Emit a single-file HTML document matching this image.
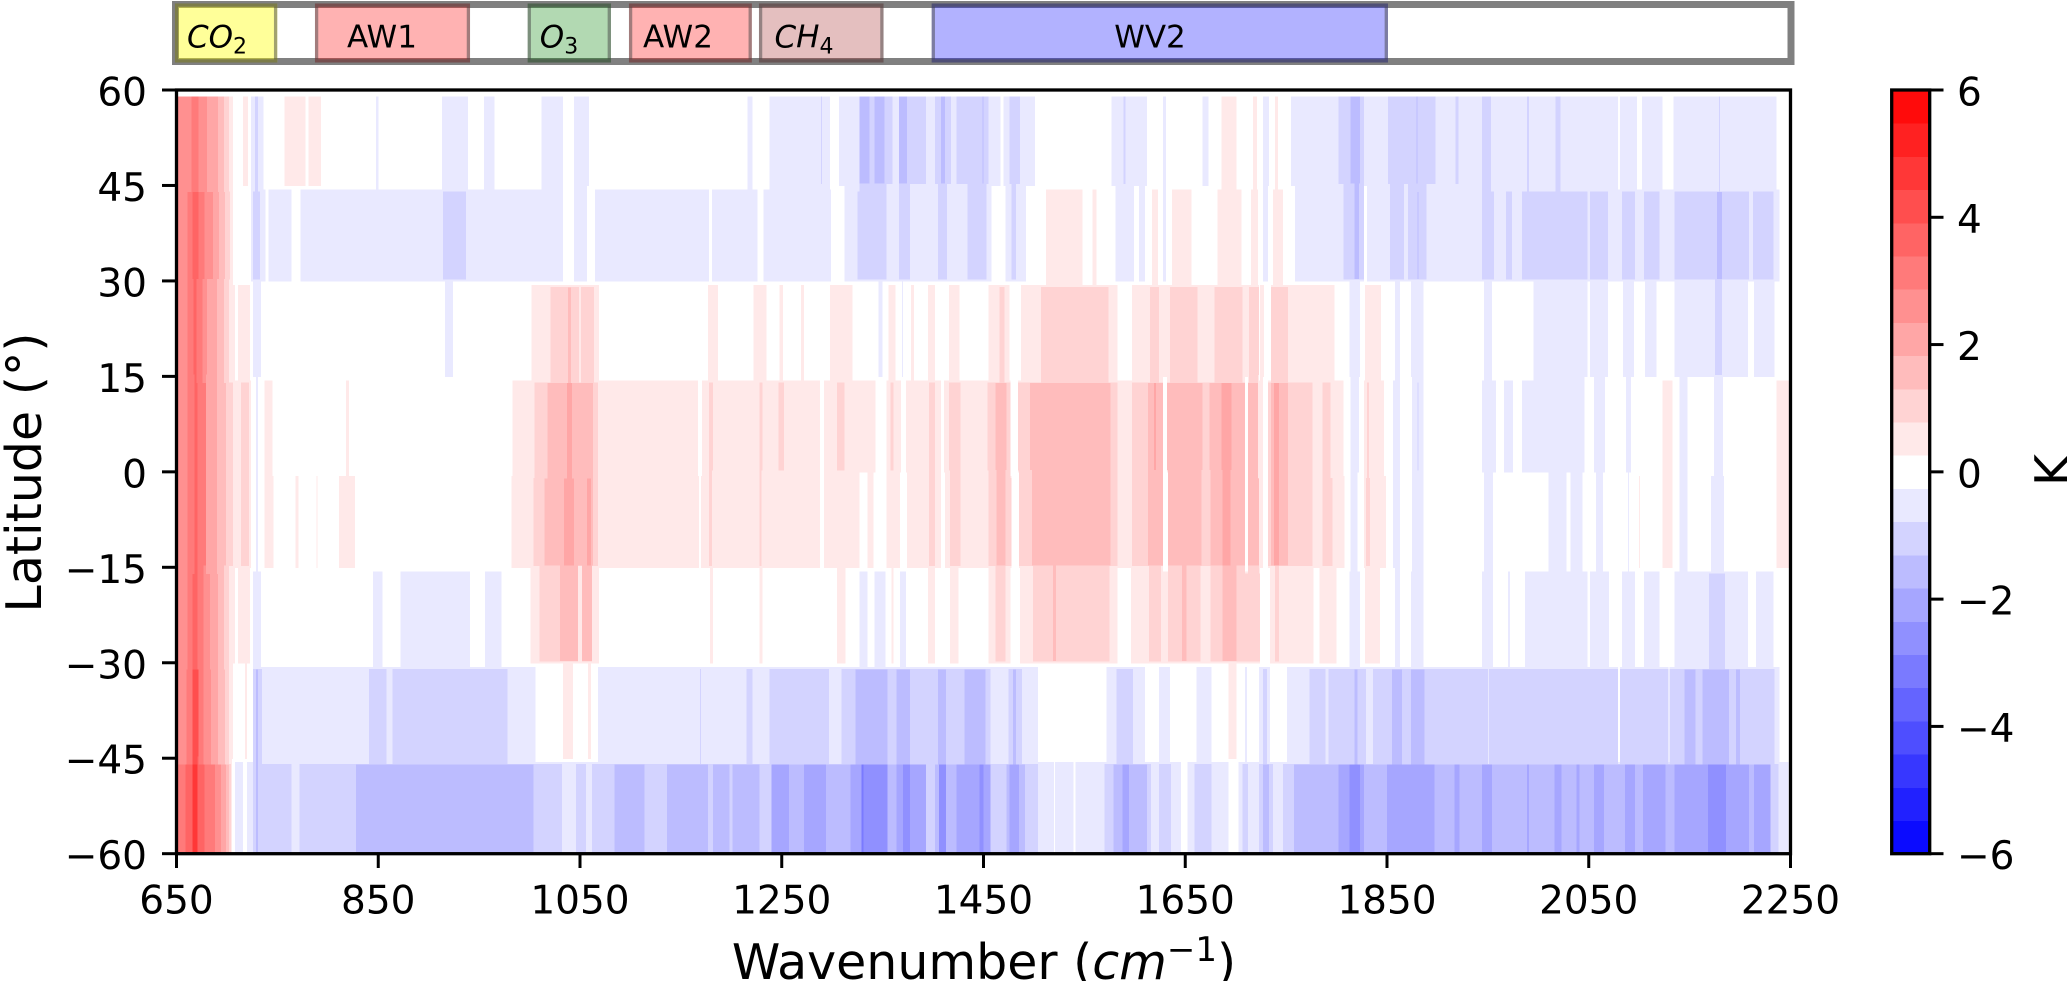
<!DOCTYPE html>
<html lang="en">
<head>
<meta charset="utf-8">
<title>Latitude vs wavenumber temperature difference</title>
<style>
html,body{margin:0;padding:0;background:#fff;overflow:hidden}
svg{display:block}
text{font-family:"DejaVu Sans","Liberation Sans",sans-serif;fill:#000}
</style>
</head>
<body>
<svg id="chart" xmlns="http://www.w3.org/2000/svg" width="2067" height="981" viewBox="0 0 2067 981">
  <rect x="0" y="0" width="2067" height="981" fill="#fff"/>

  <g>
    <rect x="175.5" y="4.5" width="1615.5" height="57" fill="#fff" stroke="#808080" stroke-width="7"/>
    <rect x="175" y="3.5" width="102.3" height="59" fill="rgba(255,255,0,0.4)"/>
    <rect x="315" y="3.5" width="155" height="59" fill="rgba(255,0,0,0.3)"/>
    <rect x="527.7" y="3.5" width="83.3" height="59" fill="rgba(0,128,0,0.3)"/>
    <rect x="629" y="3.5" width="122.8" height="59" fill="rgba(255,0,0,0.3)"/>
    <rect x="759" y="3.5" width="124.5" height="59" fill="rgba(165,42,42,0.3)"/>
    <rect x="931.7" y="3.5" width="456.3" height="59" fill="rgba(0,0,255,0.3)"/>
    <g fill="none" stroke="rgba(70,70,70,0.5)" stroke-width="3.3">
      <rect x="176.6" y="5.1" width="99" height="55.8"/>
      <rect x="316.6" y="5.1" width="151.8" height="55.8"/>
      <rect x="529.3" y="5.1" width="80" height="55.8"/>
      <rect x="630.6" y="5.1" width="119.6" height="55.8"/>
      <rect x="760.6" y="5.1" width="121.3" height="55.8"/>
      <rect x="933.3" y="5.1" width="453" height="55.8"/>
    </g>
    <g font-size="31" text-anchor="middle">
      <text x="217" y="47.5"><tspan font-style="italic">CO</tspan><tspan font-size="22" dy="6">2</tspan></text>
      <text x="382" y="47.5">AW1</text>
      <text x="559" y="47.5"><tspan font-style="italic">O</tspan><tspan font-size="22" dy="6">3</tspan></text>
      <text x="678" y="47.5">AW2</text>
      <text x="804" y="47.5"><tspan font-style="italic">CH</tspan><tspan font-size="22" dy="6">4</tspan></text>
      <text x="1150" y="47.5">WV2</text>
    </g>
  </g>

  <g id="heatmap" shape-rendering="crispEdges"></g>
  <rect x="176.5" y="90" width="1614" height="763.7" fill="none" stroke="#000" stroke-width="3.3"/>
  <g id="xAxis"></g>
  <g id="yAxis"></g>

  <text x="984" y="979" font-size="49" text-anchor="middle">Wavenumber (<tspan font-style="italic">cm</tspan><tspan font-size="34" dy="-18">−1</tspan><tspan dy="18">)</tspan></text>
  <text transform="translate(41,472.5) rotate(-90)" font-size="49" text-anchor="middle">Latitude (°)</text>

  <g id="colorbar"></g>
  <text transform="translate(2070,470) rotate(-90)" font-size="49" text-anchor="middle">K</text>
</svg>

<script>
// Each pair: [wavenumber where the run starts, temperature difference in K]
const lat60to45 = [[651,2.5],[665,3],[672,2.5],[680,2],[691,1.5],[697,1],[702,.5],[706,0],[716,.5],[721,0],[724,-.5],[728,-1],[731,-.5],[736,0],[757,.5],[778,0],[781,.5],[793,0],[848,-.5],[850,0],[913,-.5],[939,0],[955,-.5],[965,0],[1012,-.5],[1033,0],[1044,-.5],[1059,0],[1216,-.5],[1221,0],[1238,-.5],[1289,-1],[1290,-.5],[1298,0],[1307,-.5],[1327,-1.5],[1337,-1],[1342,-1.5],[1352,-1],[1360,-.5],[1366,-1.5],[1374,-1],[1393,-.5],[1402,-1],[1408,-1.5],[1412,-1],[1418,-.5],[1423,-1],[1449,-1.5],[1450,-1],[1455,-.5],[1467,0],[1470,-.5],[1476,-1],[1486,-.5],[1501,0],[1577,-.5],[1589,-1],[1591,-.5],[1612,0],[1628,-.5],[1631,0],[1667,-.5],[1673,0],[1686,.5],[1701,0],[1717,.5],[1721,0],[1727,-.5],[1733,0],[1739,.5],[1742,0],[1755,-.5],[1802,-1],[1814,-1.5],[1823,-1],[1827,-.5],[1851,-1],[1879,-1.5],[1880,-1],[1898,-.5],[1918,-1],[1921,-.5],[1944,-1],[1953,-.5],[1989,-1],[1991,-.5],[2017,-1],[2022,-.5],[2079,0],[2081,-.5],[2098,0],[2103,-.5],[2123,0],[2134,-.5],[2179,-1],[2180,-.5],[2236,0]];
const lat45to30 = [[651,2.5],[661,3],[666,3.5],[672,3],[678,2.5],[686,2],[692,1.5],[698,1],[703,.5],[706,0],[724,-.5],[726,-1],[733,-.5],[738,0],[741,-.5],[764,0],[773,-.5],[914,-1],[937,-.5],[1033,0],[1044,-.5],[1057,0],[1065,-.5],[1178,0],[1181,-.5],[1226,0],[1232,-.5],[1299,0],[1312,-.5],[1325,-1],[1354,-.5],[1366,-1],[1377,-.5],[1405,-1],[1414,-.5],[1434,-1],[1453,-.5],[1458,0],[1472,-.5],[1478,-1],[1482,-.5],[1492,0],[1512,.5],[1548,0],[1558,.5],[1562,0],[1581,-.5],[1599,0],[1604,-.5],[1610,0],[1617,.5],[1623,0],[1628,-.5],[1631,0],[1637,.5],[1656,0],[1682,.5],[1706,0],[1715,.5],[1722,0],[1727,-.5],[1732,0],[1737,.5],[1747,0],[1759,-.5],[1807,-1],[1818,-1.5],[1822,-1],[1827,0],[1830,-.5],[1853,-1],[1867,-.5],[1871,-1],[1880,-1.5],[1881,-1],[1889,-.5],[1944,-1],[1956,-.5],[1968,-1],[1974,-.5],[1984,-1],[2049,-.5],[2051,-1],[2069,-.5],[2083,-1],[2096,-.5],[2105,-1],[2120,-.5],[2135,-1],[2177,-1.5],[2182,-1],[2209,-.5],[2213,-1],[2233,-.5],[2239,0]];
const lat30to15 = [[651,2.5],[661,3],[667,3.5],[670,3],[676,2.5],[680,2],[690,1.5],[697,1],[702,.5],[708,0],[711,.5],[723,0],[726,-.5],[734,0],[916,-.5],[924,0],[1002,.5],[1021,1],[1038,1.5],[1041,1],[1049,.5],[1051,1],[1064,.5],[1069,0],[1177,.5],[1187,0],[1222,.5],[1235,0],[1248,.5],[1251,0],[1269,.5],[1272,0],[1298,.5],[1320,0],[1346,-.5],[1350,0],[1356,.5],[1363,0],[1369,-.5],[1370,0],[1378,.5],[1381,0],[1395,.5],[1402,0],[1416,.5],[1426,0],[1455,.5],[1466,1],[1471,.5],[1476,0],[1487,.5],[1507,1],[1574,.5],[1583,0],[1597,.5],[1615,1],[1624,.5],[1635,1],[1662,.5],[1679,1],[1707,.5],[1713,1],[1723,0],[1724,.5],[1728,0],[1735,1],[1752,.5],[1798,0],[1813,-.5],[1823,0],[1828,.5],[1844,0],[1858,-.5],[1863,0],[1874,-.5],[1886,0],[1946,-.5],[1954,0],[1995,-.5],[2049,0],[2051,-.5],[2069,0],[2084,-.5],[2095,0],[2106,-.5],[2117,0],[2135,-.5],[2175,-1],[2182,-.5],[2208,0],[2214,-.5],[2234,0]];
const lat15to0 = [[651,2.5],[661,3],[668,3.5],[671,3],[679,2],[690,1.5],[699,1],[706,.5],[714,1],[722,.5],[724,0],[729,-.5],[731,0],[737,.5],[745,0],[818,.5],[821,0],[983,.5],[1005,1],[1018,1.5],[1037,2],[1042,1.5],[1063,1],[1068,.5],[1167,0],[1171,.5],[1178,1],[1182,.5],[1228,1],[1231,.5],[1247,1],[1252,.5],[1288,0],[1292,.5],[1305,1],[1312,.5],[1343,0],[1354,.5],[1358,1],[1361,.5],[1368,0],[1373,.5],[1396,1],[1402,.5],[1408,0],[1411,.5],[1416,1],[1427,.5],[1454,1],[1462,1.5],[1473,1],[1477,0],[1484,1],[1496,1.5],[1576,1],[1583,.5],[1597,1],[1613,1.5],[1619,2],[1621,1.5],[1628,0],[1632,1.5],[1667,1],[1674,1.5],[1686,2],[1696,1.5],[1709,0],[1712,1.5],[1722,.5],[1727,0],[1732,1],[1735,1.5],[1738,2],[1743,1.5],[1752,1],[1776,.5],[1786,1],[1794,.5],[1807,0],[1814,-.5],[1822,0],[1827,.5],[1830,1],[1832,.5],[1847,0],[1856,-.5],[1863,0],[1875,-.5],[1880,-1],[1881,-.5],[1886,0],[1944,-.5],[1958,0],[1966,-.5],[1975,0],[1984,-.5],[2046,0],[2055,-.5],[2066,0],[2087,-.5],[2092,0],[2123,.5],[2133,0],[2140,-.5],[2148,0],[2174,-.5],[2183,0],[2236,.5],[2250,0]];
const lat0toS15 = [[651,2.5],[661,3],[668,3.5],[671,3],[679,2],[690,1.5],[699,1],[706,.5],[714,1],[722,.5],[724,0],[729,-.5],[731,0],[737,.5],[746,0],[768,.5],[771,0],[789,.5],[790,0],[811,.5],[827,0],[982,.5],[1004,1],[1015,1.5],[1034,2],[1044,1.5],[1057,2],[1061,1.5],[1063,1],[1068,.5],[1168,0],[1170,.5],[1178,1],[1181,.5],[1228,1],[1230,.5],[1288,0],[1292,.5],[1327,0],[1335,.5],[1341,0],[1354,.5],[1367,0],[1374,.5],[1396,1],[1402,.5],[1408,0],[1412,.5],[1417,1],[1427,.5],[1455,1],[1463,1.5],[1472,1],[1478,0],[1485,1],[1498,1.5],[1576,1],[1583,.5],[1597,1],[1613,1.5],[1628,0],[1633,1.5],[1666,1],[1675,1.5],[1687,2],[1695,1.5],[1709,0],[1712,1.5],[1723,.5],[1727,0],[1732,1],[1735,1.5],[1738,2],[1743,1.5],[1752,1],[1776,.5],[1786,1],[1796,.5],[1808,0],[1814,-.5],[1821,0],[1827,.5],[1829,1],[1833,.5],[1849,0],[1856,-.5],[1863,0],[1875,-.5],[1886,0],[1946,-.5],[1955,0],[2010,-.5],[2028,0],[2032,-.5],[2044,0],[2057,-.5],[2064,0],[2089,-.5],[2090,0],[2100,.5],[2101,0],[2123,.5],[2133,0],[2140,-.5],[2148,0],[2171,-.5],[2184,0],[2236,.5],[2250,0]];
const latS15toS30 = [[651,2.5],[661,3],[666,3.5],[671,3],[677,2.5],[683,2],[691,1.5],[697,1],[702,.5],[708,0],[711,.5],[723,0],[726,-.5],[734,0],[845,-.5],[854,0],[872,-.5],[941,0],[956,-.5],[972,0],[1001,.5],[1010,1],[1030,1.5],[1048,.5],[1052,1.5],[1062,.5],[1069,0],[1179,.5],[1182,0],[1228,.5],[1231,0],[1305,.5],[1313,0],[1327,-.5],[1335,0],[1342,-.5],[1353,0],[1359,.5],[1361,0],[1367,-.5],[1373,0],[1395,.5],[1402,0],[1417,.5],[1425,0],[1455,.5],[1462,1],[1472,.5],[1477,0],[1486,.5],[1499,1],[1519,1.5],[1522,1],[1575,.5],[1583,0],[1596,.5],[1614,1],[1626,.5],[1633,1],[1647,1.5],[1651,1],[1665,.5],[1675,1],[1687,1.5],[1701,1],[1724,0],[1734,.5],[1739,1],[1743,.5],[1777,0],[1783,.5],[1800,0],[1813,-.5],[1823,0],[1828,.5],[1843,0],[1858,-.5],[1863,0],[1874,-.5],[1886,0],[1944,-.5],[1955,0],[1970,-.5],[1972,0],[1987,-.5],[2049,0],[2051,-.5],[2070,0],[2083,-.5],[2096,0],[2105,-.5],[2120,0],[2135,-.5],[2169,-1],[2185,-.5],[2208,0],[2216,-.5],[2233,0]];
const latS30toS45 = [[651,2.5],[660,3],[666,4],[672,3],[677,2.5],[684,2],[691,1.5],[698,1],[702,.5],[706,0],[718,.5],[720,0],[726,-1],[729,-1.5],[731,-1],[735,-.5],[841,-1],[858,-.5],[864,-1],[978,-.5],[1006,0],[1033,.5],[1043,0],[1058,.5],[1061,0],[1068,-.5],[1169,-1],[1170,-.5],[1215,-1],[1221,-.5],[1238,-1],[1297,-.5],[1309,-1],[1323,-1.5],[1355,-1],[1364,-1.5],[1377,-1],[1405,-1.5],[1413,-1],[1431,-1.5],[1452,-1],[1457,-.5],[1475,-1],[1479,-1.5],[1482,-1],[1488,-.5],[1504,0],[1572,-.5],[1582,-1],[1598,-.5],[1610,0],[1624,-.5],[1635,0],[1661,-.5],[1676,0],[1693,.5],[1701,0],[1709,-.5],[1711,0],[1723,-.5],[1727,-1],[1731,-.5],[1734,0],[1751,-.5],[1773,-1],[1789,-.5],[1792,-1],[1818,-1.5],[1821,-1],[1829,-.5],[1836,-1],[1855,-1.5],[1865,-1],[1874,-1.5],[1887,-1],[1950,-.5],[1951,-1],[2079,0],[2081,-1],[2129,0],[2130,-1],[2145,-1.5],[2156,-1],[2163,-1.5],[2189,-1],[2196,-1.5],[2200,-1],[2234,-.5],[2239,0]];
const latS45toS60 = [[651,3],[659,3.5],[666,4.5],[671,3.5],[678,3],[688,2.5],[694,2],[699,1.5],[702,1],[704,.5],[705,0],[708,-.5],[716,0],[720,-.5],[726,-1],[729,-1.5],[731,-1],[764,-.5],[772,-1],[828,-1.5],[1004,-1],[1032,-.5],[1046,-1],[1056,-.5],[1062,-1],[1084,-1.5],[1114,-1],[1136,-1.5],[1177,-1],[1182,-1.5],[1198,-1],[1201,-1.5],[1228,-1],[1240,-2],[1257,-1.5],[1272,-2],[1294,-1.5],[1318,-2],[1329,-3],[1331,-2.5],[1355,-1.5],[1364,-2],[1370,-2.5],[1377,-2],[1393,-1],[1402,-1.5],[1406,-2.5],[1413,-1.5],[1423,-2],[1446,-2.5],[1450,-2],[1457,-1],[1473,-1.5],[1476,-2],[1485,-1.5],[1491,-1],[1504,-.5],[1520,0],[1521,-.5],[1539,0],[1541,-.5],[1570,-1],[1579,-1.5],[1588,-2],[1594,-1.5],[1612,-1],[1616,-.5],[1624,-1],[1636,-.5],[1646,0],[1652,-.5],[1659,-1],[1676,-.5],[1693,0],[1703,-.5],[1707,-1],[1712,-.5],[1723,-1],[1727,-1.5],[1733,-1],[1737,-.5],[1747,-1],[1758,-1.5],[1802,-2],[1813,-2.5],[1823,-2],[1827,-1.5],[1850,-2],[1897,-1.5],[1917,-2],[1922,-1.5],[1944,-2],[1954,-1.5],[1989,-2],[1991,-1.5],[2016,-2],[2023,-1.5],[2038,-2],[2041,-1.5],[2055,-2],[2065,-1.5],[2086,-2],[2096,-1.5],[2104,-2],[2126,-1.5],[2135,-2],[2168,-2.5],[2186,-2],[2209,-1.5],[2214,-2],[2230,-1],[2238,-.5],[2248,0]];

const rowBoundaries = [45, 30, 15, 0, -15, -30, -45];
const dataTopLat = 59;
const dataBottomLat = -60;
const xTickLabels = [650, 850, 1050, 1250, 1450, 1650, 1850, 2050, 2250];
const yTickLabels = [60, 45, 30, 15, 0, -15, -30, -45, -60];
const colorbarTickLabels = [6, 4, 2, 0, -2, -4, -6];

const rows = [lat60to45, lat45to30, lat30to15, lat15to0, lat0toS15, latS15toS30, latS30toS45, latS45toS60];

const NS = 'http://www.w3.org/2000/svg';
const xScale = function (wn) { return 176.5 + (wn - 650) * 1.00875; };
const yScale = function (lat) { return 90 + (60 - lat) * 6.364; };
const cbScale = function (v) { return 471.85 - v * 63.64; };
const step = 12 / 23;
const bandOf = function (v) { return Math.round(v / step); };
const minus = function (n) { return String(n).replace('-', '\u2212'); };

function colorOf(k) {
  const t = Math.abs(k * step) / 6;
  const c = Math.round(255 * (1 - t));
  return k >= 0 ? 'rgb(255,' + c + ',' + c + ')' : 'rgb(' + c + ',' + c + ',255)';
}
function make(parent, tag, attrs) {
  const el = document.createElementNS(NS, tag);
  for (const key in attrs) el.setAttribute(key, attrs[key]);
  parent.appendChild(el);
  return el;
}
function valueAt(row, wn) {
  let v = 0;
  for (let i = 0; i < row.length; i++) {
    if (row[i][0] <= wn) v = row[i][1]; else break;
  }
  return v;
}

const heat = document.getElementById('heatmap');
function drawCell(k, wn0, wn1, y0, y1) {
  if (k === 0 || y1 <= y0 || wn1 <= wn0) return;
  const x0 = xScale(wn0);
  const el = make(heat, 'rect', { x: x0, y: y0, width: xScale(wn1) - x0, height: y1 - y0, fill: colorOf(k) });
  
  
}

const zone = 7;
const boundaryY = function (lat) { return yScale(lat) + 2.3; };
const retreat = function (m) { return 1.7 + Math.min(2 * m, 2.5); };

function columnSegments(a, b, yb) {
  const segs = [];
  let y = yb - zone;
  let cur = a;
  if (a === b) return [[a, y, yb + zone]];
  const opposite = a * b < 0;
  const target = (opposite || Math.abs(a) < Math.abs(b)) ? (opposite ? 0 : a) : b;
  const sa = Math.sign(a) || 1;
  for (let m = Math.abs(a) - 1; m >= Math.abs(target); m--) {
    const ny = yb - retreat(m);
    segs.push([cur, y, ny]);
    y = ny;
    cur = sa * m;
  }
  const sb = Math.sign(b) || 1;
  for (let m = Math.abs(cur); m < Math.abs(b); m++) {
    const ny = yb + retreat(m);
    segs.push([cur, y, ny]);
    y = ny;
    cur = sb * (m + 1);
  }
  segs.push([cur, y, yb + zone]);
  return segs;
}

rows.forEach(function (row, i) {
  const top = i === 0 ? yScale(dataTopLat) : boundaryY(rowBoundaries[i - 1]) + zone;
  const bottom = i === rows.length - 1 ? yScale(dataBottomLat) - 1 : boundaryY(rowBoundaries[i]) - zone;
  for (let j = 0; j < row.length - 1; j++) {
    drawCell(bandOf(row[j][1]), row[j][0], row[j + 1][0], top, bottom);
  }
});

rowBoundaries.forEach(function (lat, i) {
  const upper = rows[i];
  const lower = rows[i + 1];
  const yb = boundaryY(lat);
  const edgeSet = new Set();
  upper.forEach(function (p) { edgeSet.add(p[0]); });
  lower.forEach(function (p) { edgeSet.add(p[0]); });
  const edges = Array.from(edgeSet).sort(function (p, q) { return p - q; });
  for (let j = 0; j < edges.length - 1; j++) {
    const mid = (edges[j] + edges[j + 1]) / 2;
    const a = bandOf(valueAt(upper, mid));
    const b = bandOf(valueAt(lower, mid));
    columnSegments(a, b, yb).forEach(function (s) {
      drawCell(s[0], edges[j], edges[j + 1], s[1], s[2]);
    });
  }
});

const xAxis = document.getElementById('xAxis');
xTickLabels.forEach(function (t) {
  const x = xScale(t);
  const tick = make(xAxis, 'line', { x1: x, x2: x, y1: 853.7, y2: 868, stroke: '#000', 'stroke-width': 3 });
  
  
  const label = make(xAxis, 'text', { x: x, y: 913.5, 'font-size': 39, 'text-anchor': 'middle' });
  label.textContent = minus(t);
  
  
});

const yAxis = document.getElementById('yAxis');
yTickLabels.forEach(function (t) {
  const y = yScale(t);
  const tick = make(yAxis, 'line', { x1: 162, x2: 176.5, y1: y, y2: y, stroke: '#000', 'stroke-width': 3 });
  
  
  const label = make(yAxis, 'text', { x: 147, y: y + 15.5, 'font-size': 39, 'text-anchor': 'end' });
  label.textContent = minus(t);
  
  
});

const cb = document.getElementById('colorbar');
const cbBands = make(cb, 'g', { 'shape-rendering': 'crispEdges' });
for (let k = -11; k <= 11; k++) {
  const y1 = cbScale((k - 0.5) * step);
  const y0 = cbScale((k + 0.5) * step);
  const band = make(cbBands, 'rect', { x: 1892, y: y0, width: 37, height: y1 - y0 + 0.5, fill: colorOf(k) });
  
  
}
const outline = make(cb, 'rect', { x: 1891.7, y: 90, width: 38, height: 763.7, fill: 'none', stroke: '#000', 'stroke-width': 3.3 });


colorbarTickLabels.forEach(function (t) {
  const y = cbScale(t);
  const tick = make(cb, 'line', { x1: 1929.7, x2: 1943.5, y1: y, y2: y, stroke: '#000', 'stroke-width': 3 });
  
  
  const label = make(cb, 'text', { x: 1957, y: y + 15.5, 'font-size': 39 });
  label.textContent = minus(t);
  
  
});
</script>
</body>
</html>
